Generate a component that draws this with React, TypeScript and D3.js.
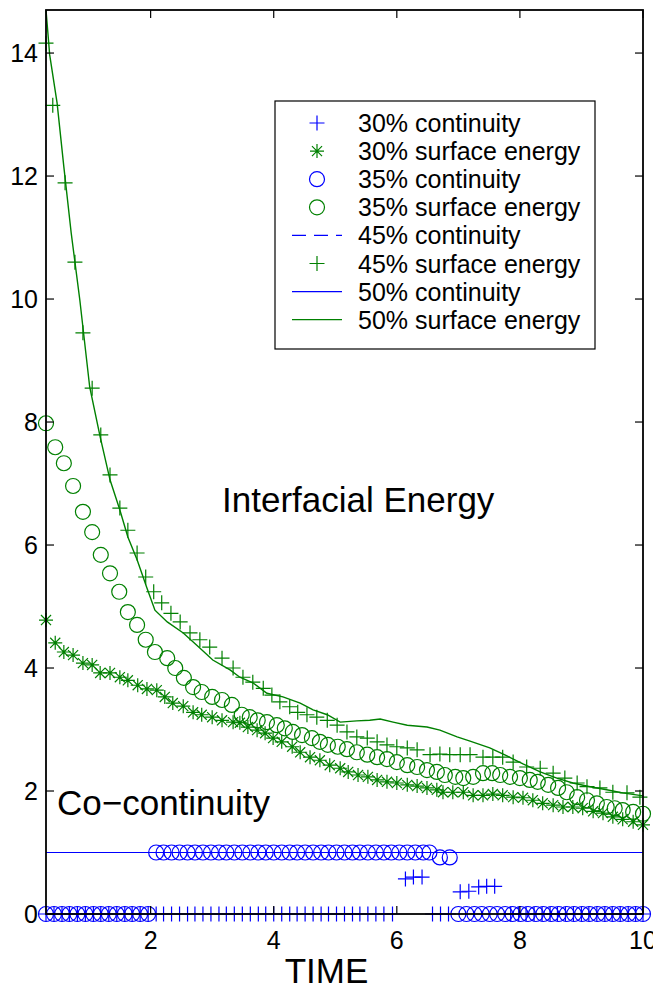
import React from "react";
import * as d3 from "d3";

// axis ticks
const X_TICKS = [2, 4, 6, 8, 10];
const Y_TICKS = [0, 2, 4, 6, 8, 10, 12, 14];

// [time, value]
const surf30: [number, number][] = [
  [0.3, 4.78], [0.45, 4.41], [0.59, 4.26], [0.74, 4.21], [0.9, 4.08], [1.05, 4.05],
  [1.18, 3.92], [1.34, 3.92], [1.5, 3.85], [1.63, 3.8], [1.79, 3.72], [1.94, 3.66],
  [2.1, 3.64], [2.23, 3.53], [2.36, 3.43], [2.53, 3.38], [2.69, 3.28], [2.83, 3.24],
  [3.0, 3.2], [3.16, 3.15], [3.34, 3.12], [3.45, 3.11], [3.58, 3.04], [3.73, 2.99],
  [3.86, 2.94], [3.99, 2.86], [4.13, 2.8], [4.3, 2.72], [4.43, 2.63], [4.59, 2.55],
  [4.75, 2.5], [4.91, 2.42], [5.08, 2.37], [5.21, 2.31], [5.37, 2.26], [5.53, 2.23],
  [5.68, 2.18], [5.84, 2.15], [6.0, 2.13], [6.17, 2.1], [6.33, 2.08], [6.49, 2.05],
  [6.65, 2.02], [6.75, 1.98], [6.91, 1.98], [7.08, 1.98], [7.24, 1.93], [7.4, 1.93],
  [7.56, 1.95], [7.72, 1.93], [7.89, 1.9], [8.05, 1.89], [8.21, 1.85], [8.37, 1.8],
  [8.54, 1.77], [8.7, 1.74], [8.86, 1.74], [9.02, 1.72], [9.19, 1.67], [9.35, 1.64],
  [9.51, 1.58], [9.67, 1.54], [9.84, 1.5], [10.0, 1.45],
];

const surf35: [number, number][] = [
  [0.3, 7.98], [0.45, 7.59], [0.59, 7.33], [0.74, 6.96], [0.9, 6.54], [1.05, 6.21],
  [1.19, 5.84], [1.34, 5.54], [1.49, 5.24], [1.63, 4.91], [1.78, 4.7], [1.92, 4.46],
  [2.07, 4.26], [2.27, 4.16], [2.4, 4.0], [2.54, 3.84], [2.69, 3.69], [2.83, 3.61],
  [3.0, 3.53], [3.16, 3.48], [3.32, 3.4], [3.48, 3.24], [3.61, 3.2], [3.74, 3.15],
  [3.89, 3.12], [4.05, 3.07], [4.18, 3.02], [4.31, 2.96], [4.46, 2.91], [4.62, 2.86],
  [4.75, 2.8], [4.88, 2.75], [5.04, 2.72], [5.19, 2.68], [5.35, 2.63], [5.52, 2.59],
  [5.68, 2.55], [5.84, 2.52], [6.0, 2.47], [6.17, 2.42], [6.33, 2.39], [6.49, 2.34],
  [6.65, 2.31], [6.78, 2.26], [6.95, 2.23], [7.08, 2.21], [7.24, 2.23], [7.4, 2.29],
  [7.55, 2.29], [7.68, 2.26], [7.84, 2.23], [8.0, 2.21], [8.16, 2.18], [8.29, 2.15],
  [8.46, 2.1], [8.62, 2.05], [8.76, 1.98], [8.93, 1.9], [9.09, 1.85], [9.25, 1.8],
  [9.41, 1.74], [9.54, 1.72], [9.67, 1.69], [9.84, 1.66], [10.0, 1.63],
];

const surf45: [number, number][] = [
  [0.3, 14.16], [0.41, 13.15], [0.61, 11.89], [0.77, 10.6], [0.9, 9.45], [1.05, 8.55],
  [1.19, 7.79], [1.34, 7.14], [1.5, 6.6], [1.63, 6.24], [1.78, 5.87], [1.92, 5.48],
  [2.05, 5.24], [2.18, 5.06], [2.33, 4.89], [2.48, 4.75], [2.64, 4.57], [2.8, 4.46],
  [2.96, 4.34], [3.16, 4.16], [3.34, 4.0], [3.5, 3.85], [3.66, 3.77], [3.83, 3.67],
  [3.97, 3.56], [4.1, 3.45], [4.26, 3.37], [4.39, 3.28], [4.54, 3.24], [4.7, 3.2],
  [4.87, 3.15], [5.03, 3.07], [5.19, 2.96], [5.35, 2.88], [5.52, 2.86], [5.68, 2.8],
  [5.84, 2.75], [6.0, 2.72], [6.17, 2.7], [6.33, 2.67], [6.54, 2.59], [6.7, 2.6],
  [6.86, 2.59], [7.03, 2.59], [7.19, 2.59], [7.4, 2.55], [7.56, 2.55], [7.72, 2.55],
  [7.89, 2.47], [8.11, 2.39], [8.33, 2.37], [8.54, 2.29], [8.73, 2.21], [8.93, 2.13],
  [9.09, 2.07], [9.3, 2.05], [9.51, 1.98], [9.74, 1.97], [9.95, 1.9],
];

const surf50: [number, number][] = [
  [0.3, 14.7], [0.36, 13.97], [0.48, 13.19], [0.59, 12.15], [0.71, 11.07], [0.85, 9.98],
  [1.01, 8.57], [1.18, 7.76], [1.34, 7.06], [1.5, 6.57], [1.63, 6.13], [1.78, 5.76],
  [1.94, 5.3], [2.07, 4.94], [2.27, 4.75], [2.53, 4.57], [2.75, 4.37], [3.01, 4.13],
  [3.29, 3.97], [3.45, 3.85], [3.66, 3.76], [3.89, 3.59], [4.15, 3.53], [4.43, 3.43],
  [4.64, 3.32], [4.87, 3.24], [5.08, 3.12], [5.35, 3.14], [5.56, 3.15], [5.73, 3.17],
  [5.94, 3.12], [6.17, 3.07], [6.49, 3.04], [6.7, 2.99], [6.98, 2.88], [7.19, 2.81],
  [7.51, 2.7], [7.79, 2.57], [8.05, 2.44], [8.33, 2.31], [8.6, 2.21], [8.86, 2.13],
  [9.14, 2.07], [9.41, 2.02], [9.67, 1.97], [10.0, 1.92],
];

const cont30: [number, number][] = [
  [0.3, 0], [0.43, 0], [0.56, 0], [0.68, 0], [0.81, 0], [0.94, 0], [1.07, 0], [1.19, 0],
  [1.32, 0], [1.45, 0], [1.58, 0], [1.7, 0], [1.83, 0], [1.96, 0], [2.09, 0], [2.21, 0],
  [2.34, 0], [2.47, 0], [2.6, 0], [2.72, 0], [2.85, 0], [2.98, 0], [3.11, 0], [3.23, 0],
  [3.36, 0], [3.49, 0], [3.62, 0], [3.75, 0], [3.87, 0], [4.0, 0], [4.13, 0], [4.26, 0],
  [4.38, 0], [4.51, 0], [4.64, 0], [4.77, 0], [4.89, 0], [5.02, 0], [5.15, 0], [5.28, 0],
  [5.4, 0], [5.53, 0], [5.66, 0], [5.79, 0], [5.93, 0],
  [6.14, 0.57], [6.27, 0.6], [6.41, 0.6], [6.58, 0], [6.71, 0], [6.84, 0],
  [7.03, 0.36], [7.17, 0.37], [7.33, 0.44], [7.46, 0.45], [7.59, 0.45],
  [7.85, 0], [7.98, 0], [8.1, 0], [8.23, 0], [8.36, 0], [8.49, 0], [8.61, 0], [8.74, 0],
  [8.87, 0], [9.0, 0], [9.12, 0], [9.25, 0], [9.38, 0], [9.5, 0], [9.63, 0], [9.76, 0],
  [9.88, 0], [10.0, 0],
];

const cont35: [number, number][] = [
  [0.3, 0], [0.43, 0], [0.56, 0], [0.68, 0], [0.81, 0], [0.94, 0], [1.07, 0], [1.19, 0],
  [1.32, 0], [1.45, 0], [1.58, 0], [1.7, 0], [1.83, 0], [1.96, 0],
  [2.09, 1], [2.21, 1], [2.34, 1], [2.47, 1], [2.6, 1], [2.72, 1], [2.85, 1], [2.98, 1],
  [3.11, 1], [3.23, 1], [3.36, 1], [3.49, 1], [3.62, 1], [3.75, 1], [3.87, 1], [4.0, 1],
  [4.13, 1], [4.26, 1], [4.38, 1], [4.51, 1], [4.64, 1], [4.77, 1], [4.89, 1], [5.02, 1],
  [5.15, 1], [5.28, 1], [5.4, 1], [5.53, 1], [5.66, 1], [5.79, 1], [5.91, 1], [6.04, 1],
  [6.17, 1], [6.3, 1], [6.43, 1], [6.53, 1], [6.7, 0.92], [6.86, 0.92],
  [7.0, 0], [7.13, 0], [7.26, 0], [7.38, 0], [7.51, 0], [7.63, 0], [7.76, 0], [7.88, 0],
  [8.01, 0], [8.13, 0], [8.26, 0], [8.38, 0], [8.51, 0], [8.63, 0], [8.76, 0], [8.88, 0],
  [9.01, 0], [9.13, 0], [9.26, 0], [9.38, 0], [9.51, 0], [9.63, 0], [9.76, 0], [9.88, 0],
  [10.0, 0],
];

const cont45: [number, number][] = [[0.3, 1], [10.0, 1]];
const cont50: [number, number][] = [[0.3, 1], [10.0, 1]];

const LEGEND_LABELS = [
  "30% continuity",
  "30% surface energy",
  "35% continuity",
  "35% surface energy",
  "45% continuity",
  "45% surface energy",
  "50% continuity",
  "50% surface energy",
];

const BLUE = "#0000ff";
const GREEN = "#008000";
const FONT = "'Liberation Sans', Arial, Helvetica, sans-serif";

const plusPath = (s: number) => `M${-s},0H${s}M0,${-s}V${s}`;
const starPath = (s: number) => {
  const d = s * 0.72;
  return `M${-s},0H${s}M0,${-s}V${s}M${-d},${-d}L${d},${d}M${-d},${d}L${d},${-d}`;
};

function Marker({ kind, color, cx, cy }: { kind: string; color: string; cx: number; cy: number }) {
  if (kind === "o")
    return <circle cx={cx} cy={cy} r={7.5} fill="none" stroke={color} strokeWidth={1.2} />;
  const d = kind === "+" ? plusPath(7.5) : starPath(7);
  return <path d={d} transform={`translate(${cx},${cy})`} fill="none" stroke={color} strokeWidth={1.2} />;
}

export default function App() {
  const W = 653;
  const H = 989;
  const left = 46, right = 643, top = 10, bottom = 914;

  const x = d3.scaleLinear().domain([0.3, 10]).range([left, right]);
  const y = d3.scaleLinear().domain([0, 14.7]).range([bottom, top]);
  const line = d3
    .line<[number, number]>()
    .x((d) => x(d[0]))
    .y((d) => y(d[1]));

  const markerSeries = [
    { data: cont30, kind: "+", color: BLUE },
    { data: cont35, kind: "o", color: BLUE },
    { data: surf30, kind: "*", color: GREEN },
    { data: surf35, kind: "o", color: GREEN },
    { data: surf45, kind: "+", color: GREEN },
  ];

  const legendItems = [
    { kind: "+", color: BLUE },
    { kind: "*", color: GREEN },
    { kind: "o", color: BLUE },
    { kind: "o", color: GREEN },
    { kind: "dash", color: BLUE },
    { kind: "+", color: GREEN },
    { kind: "line", color: BLUE },
    { kind: "line", color: GREEN },
  ];

  const tick = 8;
  const lg = { x: 275, y: 101, w: 320, h: 248, row: 28.1 };

  return (
    <svg
      width={W}
      height={H}
      style={{ position: "absolute", left: 0, top: 0, background: "#fff" }}
      fontFamily={FONT}
    >
      <rect x={0} y={0} width={W} height={H} fill="#fff" />

      {/* lines */}
      <path d={line(cont50) ?? ""} fill="none" stroke={BLUE} strokeWidth={1.2} />
      <path d={line(cont45) ?? ""} fill="none" stroke={BLUE} strokeWidth={1.2} strokeDasharray="14,8" />
      <path d={line(surf50) ?? ""} fill="none" stroke={GREEN} strokeWidth={1.4} />

      {/* markers */}
      {markerSeries.map((s, i) => (
        <g key={i}>
          {s.data.map((d, j) => (
            <Marker key={j} kind={s.kind} color={s.color} cx={x(d[0])} cy={y(d[1])} />
          ))}
        </g>
      ))}

      {/* frame */}
      <rect x={left} y={top} width={right - left} height={bottom - top} fill="none" stroke="#000" strokeWidth={1.8} />

      {/* y ticks */}
      {Y_TICKS.map((t) => (
        <g key={"y" + t}>
          <line x1={left} x2={left + tick} y1={y(t)} y2={y(t)} stroke="#000" strokeWidth={1.2} />
          <line x1={right} x2={right - tick} y1={y(t)} y2={y(t)} stroke="#000" strokeWidth={1.2} />
          <text x={38} y={y(t)} dy="0.36em" textAnchor="end" fontSize={25} fill="#000">
            {t}
          </text>
        </g>
      ))}

      {/* x ticks */}
      {X_TICKS.map((t) => (
        <g key={"x" + t}>
          <line x1={x(t)} x2={x(t)} y1={bottom} y2={bottom - tick} stroke="#000" strokeWidth={1.2} />
          <line x1={x(t)} x2={x(t)} y1={top} y2={top + tick} stroke="#000" strokeWidth={1.2} />
          <text x={x(t)} y={949} textAnchor="middle" fontSize={25} fill="#000">
            {t}
          </text>
        </g>
      ))}

      {/* annotations */}
      <text x={222} y={512} fontSize={35} fill="#000">Interfacial Energy</text>
      <text x={57} y={815} fontSize={35} fill="#000">Co−continuity</text>
      <text x={(left + right) / 2 - 18} y={983} fontSize={35} fill="#000" textAnchor="middle">TIME</text>

      {/* legend */}
      <rect x={lg.x} y={lg.y} width={lg.w} height={lg.h} fill="#fff" stroke="#000" strokeWidth={1.2} />
      {legendItems.map((it, i) => {
        const cy = lg.y + 22 + i * lg.row;
        return (
          <g key={"lg" + i}>
            {it.kind === "line" || it.kind === "dash" ? (
              <line
                x1={292}
                x2={342}
                y1={cy}
                y2={cy}
                stroke={it.color}
                strokeWidth={1.2}
                strokeDasharray={it.kind === "dash" ? "14,8" : undefined}
              />
            ) : (
              <Marker kind={it.kind} color={it.color} cx={317} cy={cy} />
            )}
            <text x={358} y={cy} dy="0.36em" fontSize={25} fill="#000">
              {LEGEND_LABELS[i]}
            </text>
          </g>
        );
      })}
    </svg>
  );
}
